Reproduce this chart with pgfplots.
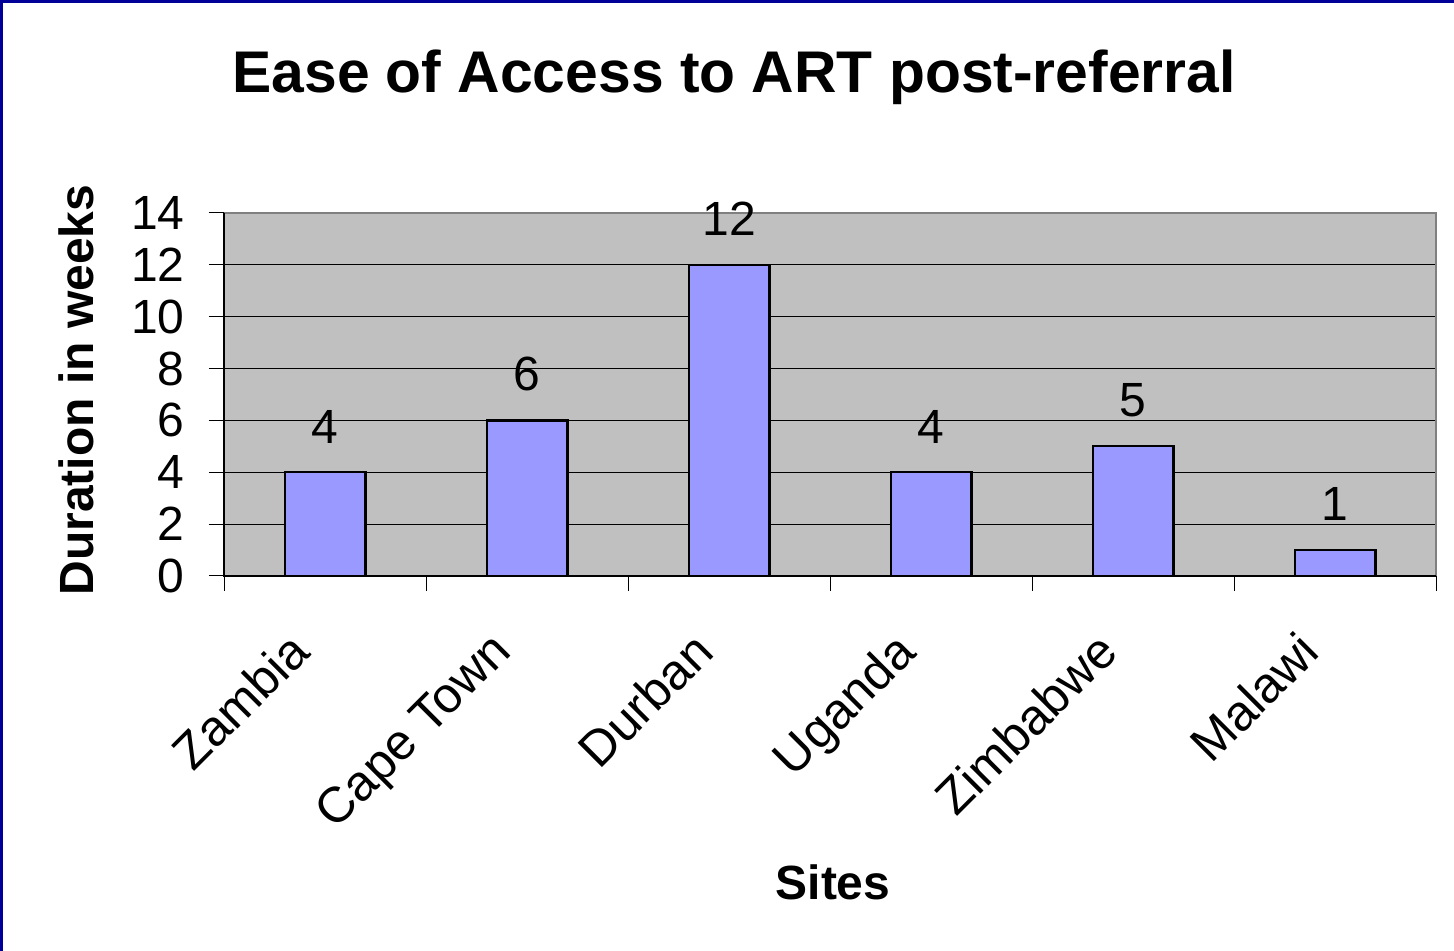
\documentclass[border=0pt]{standalone}
\usepackage{fontspec}
\setmainfont{Liberation Sans}
\usepackage{pgfplots}
\pgfplotsset{compat=1.18}
\definecolor{plotgrey}{HTML}{C0C0C0}
\definecolor{barblue}{HTML}{9999FF}
\definecolor{framenavy}{HTML}{000099}
\definecolor{bordergrey}{HTML}{808080}
\begin{document}
\begin{tikzpicture}[x=1pt,y=1pt]
\path[use as bounding box] (0,0) rectangle (727,475.5);
\fill[white] (0,0) rectangle (727,475.5);
\fill[framenavy] (0,474) rectangle (727,475.5);
\fill[framenavy] (0,0) rectangle (1.5,475.5);
\begin{axis}[
  at={(112pt,187.5pt)}, anchor=south west,
  scale only axis, width=606pt, height=181.5pt,
  xmin=-0.5, xmax=5.5, ymin=0, ymax=14,
  ytick={0,2,...,14},
  xtick={0,...,5},
  xticklabels={Zambia,Cape Town,Durban,Uganda,Zimbabwe,Malawi},
  minor xtick={-0.5,0.5,...,5.5},
  tick pos=left,
  major x tick style={draw=none},
  minor x tick style={black, line width=0.5pt},
  y tick style={black, line width=0.5pt},
  tick align=outside,
  major tick length=7.5pt, minor tick length=7.5pt,
  ymajorgrids, major grid style={black, line width=0.5pt},
  axis background/.style={fill=plotgrey},
  axis line style={draw=none},
  ticklabel style={font=\fontsize{24}{24}\selectfont},
  /pgf/number format/assume math mode=true,
  yticklabel style={anchor=east, inner sep=0pt, xshift=-12pt},
  xticklabel style={rotate=45, anchor=north east, inner sep=0pt, xshift=-27pt, yshift=0.5pt, font=\fontsize{25}{25}\selectfont},
  ybar, bar width=0.4,
  nodes near coords,
  every node near coord/.append style={font=\fontsize{24}{24}\selectfont, black, inner sep=0pt, yshift=14pt},
  clip=false,
]
\addplot[fill=barblue, draw=black, line width=1.1pt] coordinates {(0,4) (1,6) (2,12) (3,4) (4,5) (5,1)};
\draw[bordergrey, line width=0.75pt] (rel axis cs:0,1) -- (rel axis cs:1,1) -- (rel axis cs:1,0);
\draw[black, line width=0.75pt] (rel axis cs:0,1) -- (rel axis cs:0,0) -- (rel axis cs:1,0);
\end{axis}
\node[anchor=base, font=\bfseries\fontsize{29.4}{29.4}\selectfont] at (367,429) {Ease of Access to ART post-referral};
\node[rotate=90, anchor=base, font=\bfseries\fontsize{24}{24}\selectfont] at (46.5,280.5) {Duration in weeks};
\node[anchor=base, font=\bfseries\fontsize{24}{24}\selectfont] at (416.5,25.5) {Sites};
\end{tikzpicture}
\end{document}
